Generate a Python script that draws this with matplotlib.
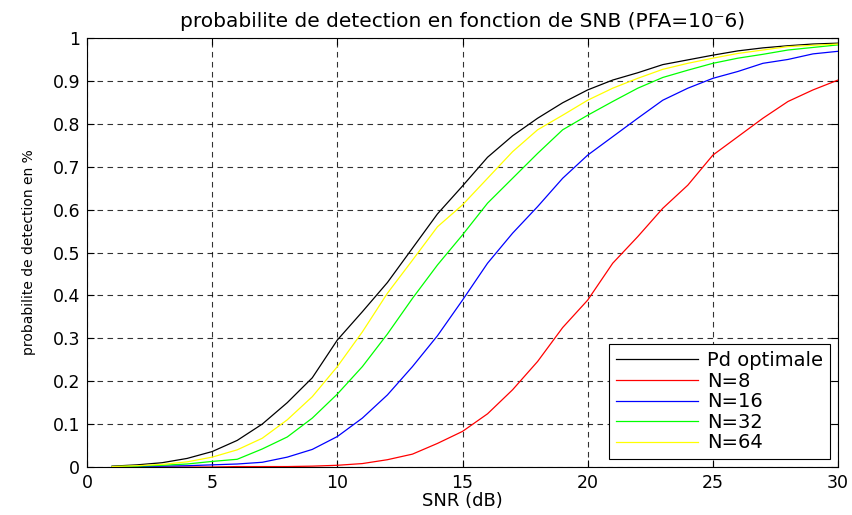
import numpy as np
import matplotlib
matplotlib.use("Agg")
import matplotlib.pyplot as plt

plt.rcParams["font.family"] = ["DejaVu Sans"]

snr = np.arange(1, 31)

pd_opt = [0.002, 0.005, 0.010, 0.020, 0.036, 0.062, 0.100, 0.150, 0.208, 0.296,
          0.362, 0.430, 0.510, 0.590, 0.655, 0.722, 0.772, 0.813, 0.849, 0.879,
          0.902, 0.919, 0.938, 0.949, 0.960, 0.970, 0.977, 0.982, 0.986, 0.988]
n8 = [0.000, 0.000, 0.000, 0.000, 0.000, 0.001, 0.001, 0.001, 0.002, 0.004,
      0.008, 0.017, 0.030, 0.055, 0.083, 0.124, 0.180, 0.246, 0.325, 0.389,
      0.475, 0.537, 0.603, 0.657, 0.727, 0.770, 0.813, 0.852, 0.879, 0.902]
n16 = [0.001, 0.001, 0.002, 0.003, 0.005, 0.007, 0.011, 0.023, 0.041, 0.071,
       0.114, 0.168, 0.234, 0.306, 0.389, 0.475, 0.545, 0.607, 0.673, 0.727,
       0.770, 0.813, 0.855, 0.883, 0.906, 0.922, 0.941, 0.950, 0.963, 0.969]
n32 = [0.001, 0.002, 0.004, 0.007, 0.013, 0.018, 0.042, 0.070, 0.114, 0.170,
       0.234, 0.310, 0.393, 0.471, 0.541, 0.615, 0.673, 0.731, 0.786, 0.820,
       0.852, 0.883, 0.908, 0.925, 0.941, 0.953, 0.962, 0.972, 0.978, 0.984]
n64 = [0.001, 0.003, 0.006, 0.012, 0.023, 0.040, 0.067, 0.110, 0.164, 0.234,
       0.315, 0.405, 0.482, 0.560, 0.611, 0.673, 0.735, 0.786, 0.820, 0.855,
       0.883, 0.906, 0.927, 0.941, 0.953, 0.964, 0.972, 0.980, 0.983, 0.986]

series = [
    ("Pd optimale", pd_opt, "black"),
    ("N=8", n8, "#ff0000"),
    ("N=16", n16, "#0000ff"),
    ("N=32", n32, "#00ff00"),
    ("N=64", n64, "#ffff00"),
]

fig = plt.figure(figsize=(8.52, 5.15), dpi=100)
ax = fig.add_axes([0.1021, 0.0932, 0.8815, 0.833])

for label, values, color in series:
    ax.plot(snr, values, color=color, lw=0.9, label=label)

ax.set_xlim(0, 30)
ax.set_ylim(0, 1)
ax.set_xticks(np.arange(0, 31, 5))
ax.set_yticks(np.round(np.arange(0, 1.01, 0.1), 1))
ax.set_yticklabels(["0", "0.1", "0.2", "0.3", "0.4", "0.5", "0.6", "0.7",
                    "0.8", "0.9", "1"])
ax.tick_params(direction="in", top=True, right=True, length=5, width=0.8,
               labelsize=12.5, pad=5)
ax.grid(True, color="black", lw=0.8, linestyle=(0, (5, 4)), alpha=0.8)
for sp in ax.spines.values():
    sp.set_linewidth(0.8)

ax.set_title("probabilite de detection en fonction de SNB (PFA=10\u207b6)",
             fontsize=14.5, pad=8)
ax.set_xlabel("SNR (dB)", fontsize=13, labelpad=0)
ax.set_ylabel("probabilite de detection en %", fontsize=10, labelpad=12)

leg = ax.legend(loc="lower right", fontsize=14, fancybox=False,
                edgecolor="black", framealpha=1, handlelength=4.2,
                handletextpad=0.5, borderaxespad=0.4, labelspacing=0.08,
                borderpad=0.35)
leg.get_frame().set_linewidth(0.8)

fig.savefig("out.png", dpi=100)
